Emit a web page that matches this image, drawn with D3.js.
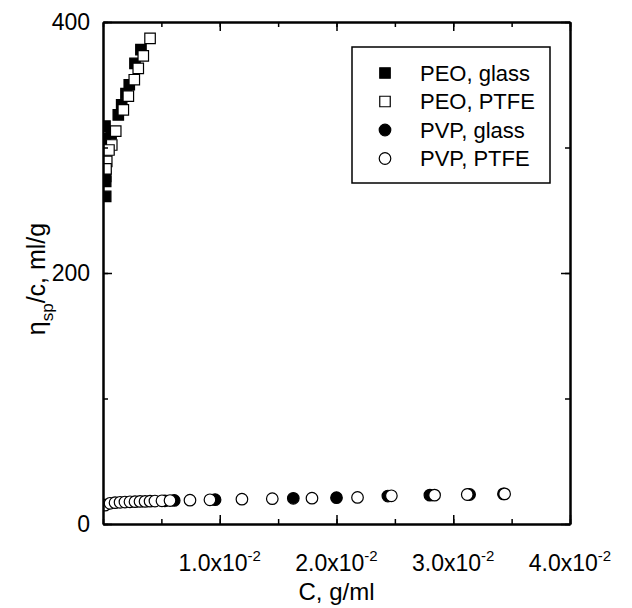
<!DOCTYPE html>
<html>
<head>
<meta charset="utf-8">
<script src="https://cdn.jsdelivr.net/npm/d3@7"></script>
<style>
body { margin: 0; background: #fff; }
text { font-family: "Liberation Sans", Arial, sans-serif; fill: #000; }
</style>
</head>
<body>
<script>
// PEO, glass (filled squares)
var peoGlassC = [0.00325, 0.00274, 0.00225, 0.00197, 0.0016, 0.00131, 0.00069, 0.00045, 0.00017, 0.0002, 0.00023, 0.00023, 0.00023];
var peoGlassV = [378, 367, 350, 343, 334, 326, 311, 299, 317, 307, 277, 273, 261];
// PEO, PTFE (open squares)
var peoPtfeC = [0.00403, 0.00345, 0.00302, 0.00268, 0.00217, 0.00174, 0.00109, 0.00075, 0.00051, 0.00032, 0.00026];
var peoPtfeV = [387, 373, 363, 354, 341, 330, 313, 302, 298, 289, 283];
// PVP, glass (filled circles)
var pvpGlassC = [0.0053, 0.0061, 0.0096, 0.0163, 0.0200, 0.0244, 0.0280, 0.0314, 0.0343];
var pvpGlassV = [18.5, 18.8, 19.4, 20.5, 21, 22.3, 23, 23.5, 24];
// PVP, PTFE (open circles)
var pvpPtfeC = [0.00017, 0.0006, 0.00103, 0.00146, 0.00188, 0.00231, 0.00274, 0.00317, 0.0036, 0.00403, 0.00445, 0.00505, 0.00574, 0.00745, 0.00916, 0.0119, 0.0145, 0.0179, 0.0218, 0.0247, 0.0284, 0.0312, 0.0344];
var pvpPtfeV = [15, 16.5, 17, 17.3, 17.5, 17.7, 17.8, 18, 18, 18.2, 18.3, 18.5, 18.7, 19, 19.3, 19.8, 20.2, 20.6, 21.2, 22.5, 23, 23.5, 24];

var xTicks = [0.01, 0.02, 0.03, 0.04];
var xTickLabels = ["1.0x10", "2.0x10", "3.0x10", "4.0x10"];
var yTicks = [0, 200, 400];

var series = [
  {name: "PEO, glass", c: peoGlassC, v: peoGlassV, shape: "square", fill: "#000"},
  {name: "PEO, PTFE", c: peoPtfeC, v: peoPtfeV, shape: "square", fill: "#fff"},
  {name: "PVP, glass", c: pvpGlassC, v: pvpGlassV, shape: "circle", fill: "#000"},
  {name: "PVP, PTFE", c: pvpPtfeC, v: pvpPtfeV, shape: "circle", fill: "#fff"}
];

var margin = {left: 103, right: 62, top: 22, bottom: 84};
var W = 632, H = 608;
var width = W - margin.left - margin.right;
var height = H - margin.top - margin.bottom;

var x = d3.scaleLinear().domain([0, 0.04]).range([0, width]);
var y = d3.scaleLinear().domain([0, 400]).range([height, 0]);

var svg = d3.select("body").append("svg").attr("width", W).attr("height", H);
var g = svg.append("g").attr("transform", "translate(" + margin.left + "," + margin.top + ")");

svg.append("defs").append("clipPath").attr("id", "plotclip")
  .append("rect").attr("width", width).attr("height", height);

// points
var pts = g.append("g").attr("clip-path", "url(#plotclip)");
var sym = {square: d3.symbol().type(d3.symbolSquare).size(110), circle: d3.symbol().type(d3.symbolCircle).size(105)};
series.forEach(function(s) {
  pts.selectAll(null)
    .data(s.c.map(function(c, i) { return [c, s.v[i]]; }))
    .enter().append("path")
    .attr("d", sym[s.shape])
    .attr("transform", function(d) { return "translate(" + x(d[0]) + "," + y(d[1]) + ")"; })
    .attr("fill", s.fill)
    .attr("stroke", "#000")
    .attr("stroke-width", 1.2);
});

// axes (box, inward ticks)
function styleAxis(sel) {
  sel.select(".domain").attr("stroke-width", 2);
  sel.selectAll(".tick line").attr("stroke-width", 1.5);
  sel.selectAll("text").remove();
}
var xMinor = d3.range(0, 0.0401, 0.005);
var yMinor = d3.range(0, 401, 100);
g.append("g").attr("transform", "translate(0," + height + ")")
  .call(d3.axisBottom(x).tickValues(xMinor).tickSizeInner(-5).tickSizeOuter(0)).call(styleAxis);
g.append("g").attr("transform", "translate(0," + height + ")")
  .call(d3.axisBottom(x).tickValues(xTicks).tickSizeInner(-9).tickSizeOuter(0)).call(styleAxis);
g.append("g")
  .call(d3.axisTop(x).tickValues(xMinor).tickSizeInner(-5).tickSizeOuter(0)).call(styleAxis);
g.append("g")
  .call(d3.axisTop(x).tickValues(xTicks).tickSizeInner(-9).tickSizeOuter(0)).call(styleAxis);
g.append("g")
  .call(d3.axisLeft(y).tickValues(yMinor).tickSizeInner(-5).tickSizeOuter(0)).call(styleAxis);
g.append("g")
  .call(d3.axisLeft(y).tickValues(yTicks).tickSizeInner(-9).tickSizeOuter(0)).call(styleAxis);
g.append("g").attr("transform", "translate(" + width + ",0)")
  .call(d3.axisRight(y).tickValues(yMinor).tickSizeInner(-5).tickSizeOuter(0)).call(styleAxis);
g.append("g").attr("transform", "translate(" + width + ",0)")
  .call(d3.axisRight(y).tickValues(yTicks).tickSizeInner(-9).tickSizeOuter(0)).call(styleAxis);

// tick labels
g.selectAll(".ylab").data(yTicks).enter().append("text")
  .attr("x", -13).attr("y", function(d) { return y(d); })
  .attr("dy", "0.36em").attr("text-anchor", "end")
  .style("font-size", "23px").text(function(d) { return d; });

var xl = g.selectAll(".xlab").data(xTicks).enter().append("text")
  .attr("x", function(d) { return x(d); }).attr("y", height + 47)
  .attr("text-anchor", "middle").style("font-size", "23px");
xl.append("tspan").text(function(d, i) { return xTickLabels[i]; });
xl.append("tspan").attr("dy", -10).style("font-size", "15px").text("-2");

// axis titles
svg.append("text").attr("x", margin.left + width / 2).attr("y", 600)
  .attr("text-anchor", "middle").style("font-size", "24px").text("C, g/ml");
var yt = svg.append("text").attr("transform", "translate(45," + (margin.top + height / 2 + 6) + ") rotate(-90)")
  .attr("text-anchor", "middle").style("font-size", "25px");
yt.append("tspan").text("η");
yt.append("tspan").attr("dy", 8).style("font-size", "17px").text("sp");
yt.append("tspan").attr("dy", -8).text("/c, ml/g");

// legend
var lg = svg.append("g").attr("transform", "translate(352,47)");
lg.append("rect").attr("width", 198).attr("height", 136)
  .attr("fill", "#fff").attr("stroke", "#000").attr("stroke-width", 1.5);
series.forEach(function(s, i) {
  var yy = 26 + i * 28.5;
  lg.append("path").attr("d", sym[s.shape])
    .attr("transform", "translate(33," + yy + ")")
    .attr("fill", s.fill).attr("stroke", "#000").attr("stroke-width", 1.2);
  lg.append("text").attr("x", 68).attr("y", yy).attr("dy", "0.36em")
    .style("font-size", "22px").text(s.name);
});
</script>
</body>
</html>
